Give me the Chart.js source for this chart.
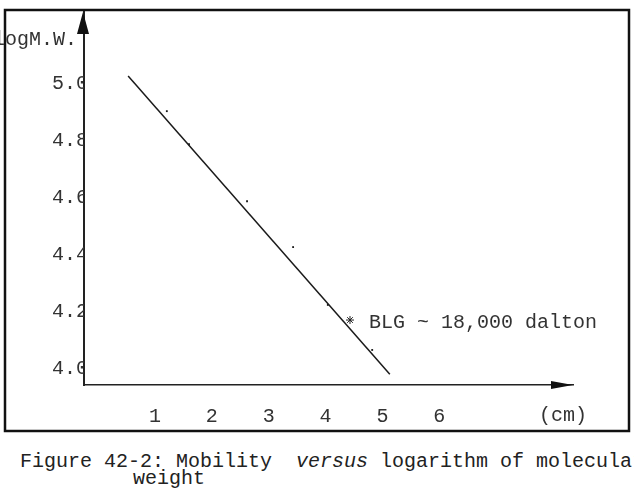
<!DOCTYPE html>
<html>
<head>
<meta charset="utf-8">
<script src="https://cdn.jsdelivr.net/npm/chart.js@4"></script>
<style>
  html, body { margin: 0; padding: 0; background: #fff; }
  body { width: 634px; height: 488px; position: relative; overflow: hidden; }
  #chart { position: absolute; left: 0; top: 0; }
  .cap { position: absolute; font: 20px "Liberation Mono", "Courier New", monospace; color: #222; white-space: pre; line-height: 22px; }
</style>
</head>
<body>
<canvas id="chart" width="634" height="440"></canvas>
<div class="cap" style="left:20px; top:451px;">Figure 42-2: Mobility  <i>versus</i> logarithm of molecular</div>
<div class="cap" style="left:133px; top:468px;">weight</div>
<script>
// mobilité (cm) des standards et leur log du poids moléculaire
const mobility = [1.21, 1.60, 2.62, 3.43, 4.04, 4.82];
const logMW = [4.905, 4.789, 4.589, 4.428, 4.225, 4.067];

// droite d'étalonnage
const fitX = [0.53, 5.13];
const fitY = [5.028, 3.982];

// BLG
const blgX = [4.43];
const blgY = [4.172];
const blgLabel = "BLG ~ 18,000 dalton";

const xTicks = [1, 2, 3, 4, 5, 6];
const yTicks = [4.0, 4.2, 4.4, 4.6, 4.8, 5.0];

const FONT = '"Liberation Mono", "Courier New", monospace';
const INK = "#1a1a1a";

const decorPlugin = {
  id: "decor",
  afterDraw(chart) {
    const ctx = chart.ctx;
    const a = chart.chartArea;
    const xs = chart.scales.x, ys = chart.scales.y;
    ctx.save();

    // cadre
    ctx.strokeStyle = "#111";
    ctx.lineWidth = 2.5;
    ctx.strokeRect(5, 10, 624, 421);

    // flèche axe y
    ctx.fillStyle = "#111";
    ctx.beginPath();
    ctx.moveTo(a.left - 1, 12);
    ctx.lineTo(a.left - 7, 34);
    ctx.lineTo(a.left + 5, 34);
    ctx.closePath();
    ctx.fill();

    // flèche axe x
    ctx.beginPath();
    ctx.moveTo(a.right, a.bottom);
    ctx.lineTo(a.right - 22, a.bottom - 4);
    ctx.lineTo(a.right - 22, a.bottom + 4);
    ctx.closePath();
    ctx.fill();

    ctx.fillStyle = "#333";
    ctx.font = "20px " + FONT;
    ctx.textBaseline = "middle";

    ctx.textAlign = "right";
    ctx.fillText("logM.W.", 77, 40);

    ctx.textAlign = "center";
    ctx.fillText("(cm)", 563, 416);

    // annotation BLG
    ctx.textAlign = "left";
    const px = xs.getPixelForValue(blgX[0]);
    const py = ys.getPixelForValue(blgY[0]);
    ctx.fillText(blgLabel, px + 19, py + 3);

    ctx.restore();
  }
};

new Chart(document.getElementById("chart"), {
  type: "scatter",
  data: {
    datasets: [
      {
        type: "line",
        data: fitX.map((x, i) => ({ x: x, y: fitY[i] })),
        borderColor: INK,
        borderWidth: 1.5,
        pointRadius: 0,
        fill: false
      },
      {
        data: mobility.map((x, i) => ({ x: x, y: logMW[i] })),
        pointStyle: "rect",
        pointRadius: 1.3,
        backgroundColor: INK,
        borderColor: INK,
        borderWidth: 0
      },
      {
        data: blgX.map((x, i) => ({ x: x, y: blgY[i] })),
        pointStyle: "star",
        pointRadius: 4,
        borderColor: "#222",
        borderWidth: 1
      }
    ]
  },
  options: {
    responsive: false,
    animation: false,
    devicePixelRatio: 1,
    layout: { padding: { top: 12, right: 61, left: 0, bottom: 0 } },
    plugins: { legend: { display: false }, tooltip: { enabled: false } },
    scales: {
      x: {
        type: "linear",
        min: -0.246,
        max: 8.35,
        afterBuildTicks: s => { s.ticks = xTicks.map(v => ({ value: v })); },
        afterFit: s => { s.height = 55; },
        grid: { display: true, color: "transparent", drawTicks: false },
        border: { display: true, color: "#222", width: 1.6 },
        ticks: { font: { family: FONT, size: 20 }, color: "#333", padding: 20, maxRotation: 0 }
      },
      y: {
        type: "linear",
        min: 3.944,
        max: 5.253,
        afterBuildTicks: s => { s.ticks = yTicks.map(v => ({ value: v })); },
        afterFit: s => { s.width = 84; },
        grid: { display: true, color: "transparent", drawTicks: false },
        border: { display: true, color: "#222", width: 2 },
        ticks: {
          font: { family: FONT, size: 20 },
          color: "#333",
          padding: -4,
          callback: v => v.toFixed(1)
        }
      }
    }
  },
  plugins: [decorPlugin]
});
</script>
</body>
</html>
